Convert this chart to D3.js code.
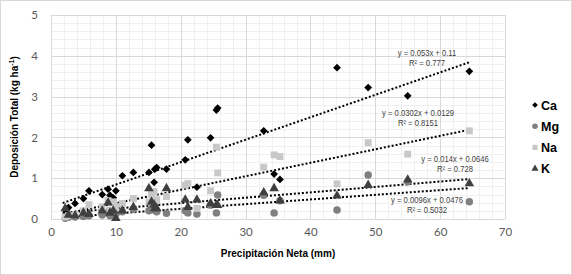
<!DOCTYPE html>
<html><head><meta charset="utf-8">
<script src="https://cdn.jsdelivr.net/npm/d3@7/dist/d3.min.js"></script>
<style>body{margin:0;background:#fff}svg{display:block}</style>
</head><body>
<script>
// ---- data ----
const precip = [2.2,2.7,3.7,5.0,5.85,7.9,8.8,9.1,9.6,10.0,11.0,12.7,15.1,15.5,15.9,16.0,16.3,17.8,20.7,21.1,22.5,24.6,25.5,25.7,32.8,34.4,35.3,44.1,48.9,55.0,64.5];
const ca = [0.22,0.28,0.38,0.50,0.69,0.60,0.73,0.58,0.52,0.69,1.06,1.14,1.14,1.81,0.90,1.22,1.26,1.22,1.45,1.94,0.78,1.99,2.67,2.72,2.16,1.10,0.97,3.71,3.22,3.02,3.62];
const mg = [0.02,0.04,0.05,0.06,0.08,0.10,0.15,0.08,0.20,0.12,0.18,0.24,0.20,0.26,0.22,0.28,0.18,0.14,0.20,0.15,0.12,0.34,0.15,0.59,0.58,0.15,0.45,0.22,1.08,0.91,0.42];
const na = [0.05,0.08,0.10,0.20,0.35,0.30,0.45,0.22,0.42,0.30,0.38,0.50,0.42,0.60,0.67,0.45,0.47,0.55,0.83,0.87,0.26,0.69,1.76,1.13,1.27,1.57,1.53,0.86,1.87,1.59,2.16];
const k  = [0.26,0.10,0.08,0.15,0.12,0.20,0.40,0.15,0.20,0.02,0.20,0.29,0.75,0.42,0.35,0.26,0.26,0.75,0.47,0.29,0.47,0.38,0.34,0.34,0.65,0.75,0.45,0.57,0.83,0.96,0.87];
const seriesNames = ["Ca","Mg","Na","K"];
const eqLabels = ["y = 0.053x + 0.11","y = 0.0096x + 0.0476","y = 0.0302x + 0.0129","y = 0.014x + 0.0646"];
const r2Labels = ["R² = 0.777","R² = 0.5032","R² = 0.8151","R² = 0.728"];
const xTicks = [0,10,20,30,40,50,60,70];
const yTicks = [0,1,2,3,4,5];
const xTitle = "Precipitación Neta (mm)";
const yTitle = "Deposición Total (kg ha";

const seriesValues = [ca, mg, na, k];
const colors = ["#000000","#7f7f7f","#c8c8c8","#3f3f3f"];
const shapes = [d3.symbolSquare, d3.symbolCircle, d3.symbolSquare, d3.symbolTriangle];
const rotations = [45, 0, 0, 0];
const sizes = [30, 44, 48, 40];

const W = 572, H = 275;
const svg = d3.select("body").append("svg").attr("width", W).attr("height", H);
svg.append("rect").attr("x",0.5).attr("y",0.5).attr("width",W-1).attr("height",H-1)
  .attr("fill","#fff").attr("stroke","#d9d9d9");

const x = d3.scaleLinear().domain([0,70]).range([51,505]);
const y = d3.scaleLinear().domain([0,5]).range([219,15]);

// minor grid
const g = svg.append("g");
g.selectAll(".mx").data(d3.range(0,70.01,2)).join("line")
  .attr("x1",d=>Math.round(x(d))+0.5).attr("x2",d=>Math.round(x(d))+0.5)
  .attr("y1",y(0)).attr("y2",y(5)).attr("stroke","#f0f0f0");
g.selectAll(".my").data(d3.range(0,5.01,0.2)).join("line")
  .attr("y1",d=>Math.round(y(d))+0.5).attr("y2",d=>Math.round(y(d))+0.5)
  .attr("x1",x(0)).attr("x2",x(70)).attr("stroke","#f0f0f0");
// major grid
g.selectAll(".Mx").data(xTicks).join("line")
  .attr("x1",d=>Math.round(x(d))+0.5).attr("x2",d=>Math.round(x(d))+0.5)
  .attr("y1",y(0)).attr("y2",y(5)).attr("stroke","#d9d9d9");
g.selectAll(".My").data(yTicks).join("line")
  .attr("y1",d=>Math.round(y(d))+0.5).attr("y2",d=>Math.round(y(d))+0.5)
  .attr("x1",x(0)).attr("x2",x(70)).attr("stroke","#d9d9d9");

// axes tick labels
const tickFont = "Lato, 'Liberation Sans', sans-serif";
const xa = svg.append("g").attr("transform",`translate(0,${y(0)+6})`)
  .call(d3.axisBottom(x).tickValues(xTicks).tickFormat(d3.format("d")).tickSize(0).tickPadding(3));
xa.select(".domain").remove();
xa.selectAll("text").attr("fill","#595959").attr("font-size",11.5).attr("font-family",tickFont);
const ya = svg.append("g").attr("transform",`translate(${x(0)-10},0)`)
  .call(d3.axisLeft(y).tickValues(yTicks).tickFormat(d3.format("d")).tickSize(0).tickPadding(3));
ya.select(".domain").remove();
ya.selectAll("text").attr("fill","#595959").attr("font-size",11.5).attr("font-family",tickFont);

// axis titles
svg.append("text").attr("x",278).attr("y",257).attr("text-anchor","middle")
  .attr("font-family","'Liberation Sans', Arial, sans-serif").attr("font-weight","bold")
  .attr("font-size",10).attr("fill","#000").text(xTitle);
const yt = svg.append("text").attr("transform","translate(18,117) rotate(-90)")
  .attr("text-anchor","middle").attr("font-family","'Liberation Sans', Arial, sans-serif")
  .attr("font-weight","bold").attr("font-size",10).attr("fill","#000");
yt.append("tspan").text(yTitle);
yt.append("tspan").attr("font-size",7).attr("dy",-4).text("-1");
yt.append("tspan").attr("dy",4).text(")");

// trendlines (least squares fit of each series)
function fit(xs, ys){
  const mx=d3.mean(xs), my=d3.mean(ys);
  let sxy=0,sxx=0; xs.forEach((v,i)=>{sxy+=(v-mx)*(ys[i]-my); sxx+=(v-mx)*(v-mx);});
  const b=sxy/sxx; return {b, a:my-b*mx};
}
const xmin = d3.min(precip)-0.4, xmax = d3.max(precip);
const lineG = svg.append("g");
seriesValues.forEach((vals,i)=>{
  const f = fit(precip, vals);
  lineG.append("line").attr("x1",x(xmin)).attr("y1",y(f.a+f.b*xmin))
    .attr("x2",x(xmax)).attr("y2",y(f.a+f.b*xmax))
    .attr("stroke","#000").attr("stroke-width",2).attr("stroke-dasharray","2,2");
});

// points
seriesValues.forEach((vals,i)=>{
  svg.append("g").selectAll("path").data(vals).join("path")
    .attr("transform",(d,j)=>`translate(${x(precip[j])},${y(d)}) rotate(${rotations[i]})`)
    .attr("d", d3.symbol().type(shapes[i]).size(sizes[i]))
    .attr("fill", colors[i]);
});

// equation labels (condensed)
const eqFont = "'Liberation Sans', Arial, sans-serif";
const eqPos = [[427,56],[427,203],[418,116],[455,162]];
seriesValues.forEach((v,i)=>{
  [eqLabels[i], r2Labels[i]].forEach((s,j)=>{
    svg.append("text").attr("text-anchor","middle").attr("font-family",eqFont)
      .attr("font-size",8.5).attr("fill","#404040")
      .attr("transform",`translate(${eqPos[i][0]},${eqPos[i][1]+j*9.6}) scale(0.9,1)`)
      .text(s);
  });
});

// legend
const lg = svg.append("g");
seriesNames.forEach((n,i)=>{
  const ly = 105 + i*21.2;
  lg.append("path").attr("transform",`translate(535,${ly}) rotate(${rotations[i]})`)
    .attr("d", d3.symbol().type(shapes[i]).size(sizes[i]*0.55)).attr("fill",colors[i]);
  lg.append("text").attr("x",541).attr("y",ly+4.5).attr("font-family","'Liberation Sans', Arial, sans-serif")
    .attr("font-weight","bold").attr("font-size",12.5).attr("fill","#000").text(n);
});
</script>
</body></html>
